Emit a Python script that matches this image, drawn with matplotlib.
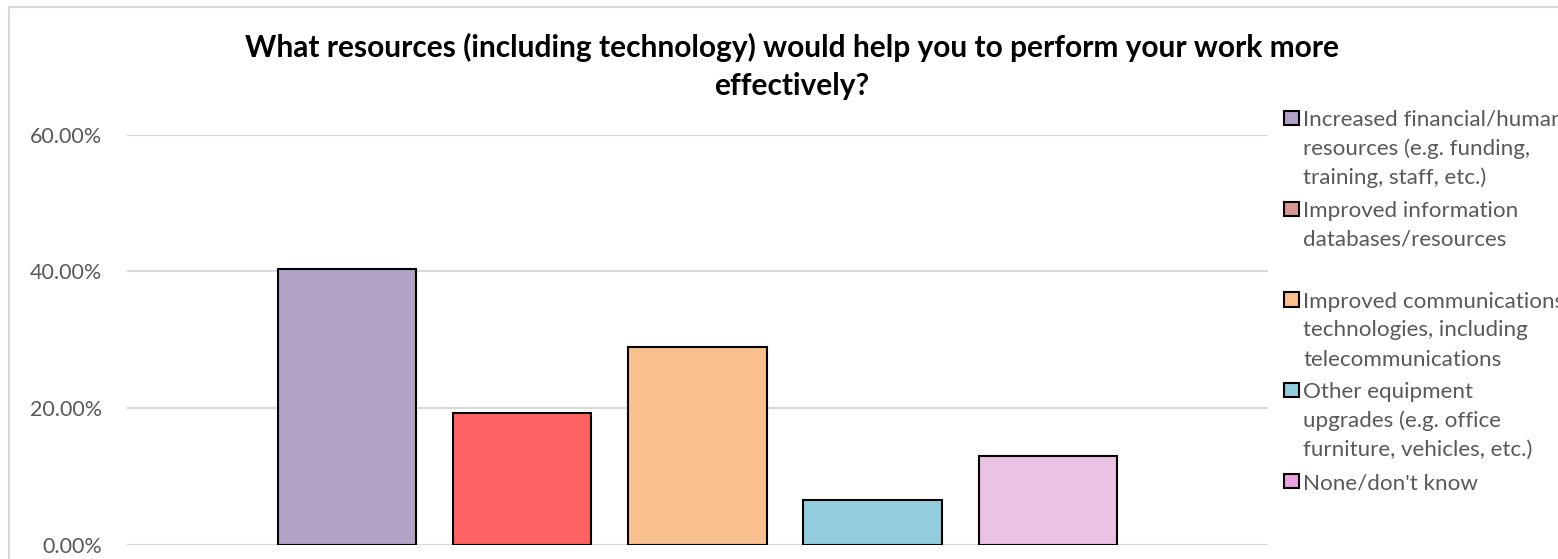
import numpy as np
import matplotlib
matplotlib.use('Agg')
from matplotlib import pyplot as plt
from matplotlib.patches import Rectangle
from matplotlib.lines import Line2D
from matplotlib.ticker import PercentFormatter

# data
labels = [
    'Increased financial/human\nresources (e.g. funding,\ntraining, staff, etc.)',
    'Improved information\ndatabases/resources',
    'Improved communications\ntechnologies, including\ntelecommunications',
    'Other equipment\nupgrades (e.g. office\nfurniture, vehicles, etc.)',
    "None/don't know",
]
values = [40.3, 19.3, 29.0, 6.5, 13.0]
bar_colors = ['#B1A3C8', '#FF6262', '#F9C08F', '#93CDDD', '#EAC2E4']
legend_colors = ['#B1A3C8', '#DA9694', '#F9C08F', '#93CDDD', '#E8A3E0']
title = 'What resources (including technology) would help you to perform your work more\neffectively?'

W, H = 1558, 559
plt.rcParams['font.family'] = ['Lato', 'DejaVu Sans']
fig = plt.figure(figsize=(W / 100, H / 100), dpi=100)

def fx(px):
    return px / W

def fy(py):
    return 1 - py / H

ax = fig.add_axes([fx(126.7), fy(544.7), fx(1268) - fx(126.7), fy(134.7) - fy(544.7)])
x = np.arange(len(values))
ax.bar(x, values, width=0.79, color=bar_colors, edgecolor='black', linewidth=1.5, zorder=3)
ax.set_xlim(-1.256, 5.256)
ax.set_ylim(0, 60)
ax.set_yticks([0, 20, 40, 60])
ax.yaxis.set_major_formatter(PercentFormatter(decimals=2))
ax.grid(axis='y', color='#D9D9D9', linewidth=1.5, zorder=0)
ax.set_xticks([])
for s in ax.spines.values():
    s.set_visible(False)
ax.tick_params(axis='y', length=0, pad=18, labelsize=15.5, labelcolor='#595959')

# title, one line at a time
for k, line in enumerate(title.split('\n')):
    fig.text(fx(792), fy(57 + 38 * k), line, ha='center', va='baseline', fontsize=21.5,
             fontweight='bold', color='black')

# legend drawn by hand (it runs off the right edge)
first_base = 126
slot = 90.75
line_h = 29
for i, (lab, col) in enumerate(zip(labels, legend_colors)):
    base = first_base + slot * i
    fig.patches.append(Rectangle((fx(1284), fy(base - 1)), fx(15), fy(0) - fy(14),
                                 transform=fig.transFigure, facecolor=col,
                                 edgecolor='black', linewidth=1.5))
    for j, line in enumerate(lab.split('\n')):
        fig.text(fx(1303), fy(base + line_h * j), line, ha='left', va='baseline',
                 fontsize=16.1, color='#595959')

# chart area border
fig.add_artist(Line2D([fx(8.5), fx(8.5)], [fy(6.5), 0], transform=fig.transFigure,
                      color='#D9D9D9', linewidth=1.5))
fig.add_artist(Line2D([fx(8.5), 1], [fy(6.5), fy(6.5)], transform=fig.transFigure,
                      color='#D9D9D9', linewidth=1.5))

fig.savefig('out.png', dpi=100)
